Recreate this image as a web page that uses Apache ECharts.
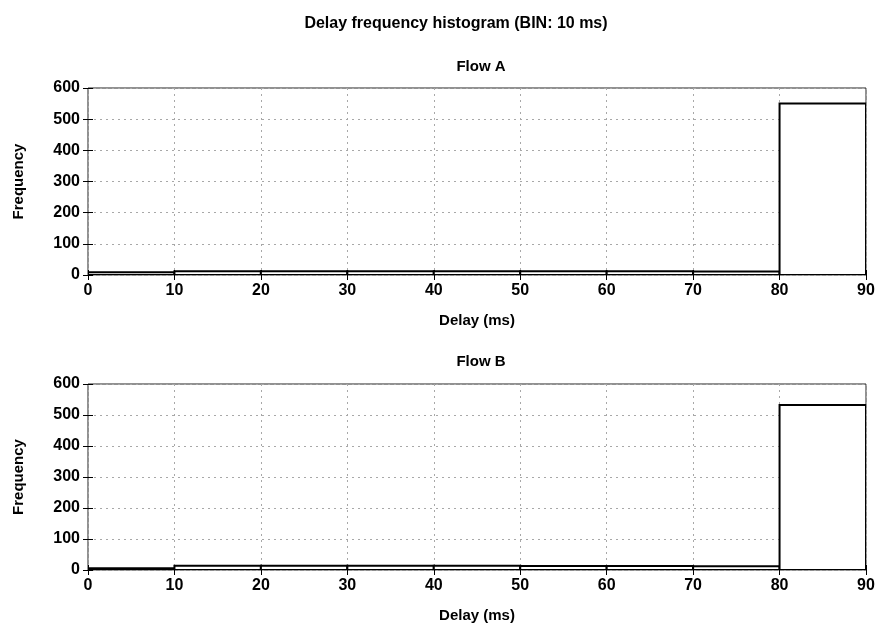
<!DOCTYPE html>
<html>
<head>
<meta charset="utf-8">
<script src="https://cdn.jsdelivr.net/npm/echarts@6/dist/echarts.min.js"></script>
<style>
  html, body { margin: 0; padding: 0; background: #fff; }
  #chart { width: 882px; height: 627px; }
</style>
</head>
<body>
<div id="chart"></div>
<script>
// Histogram bins (ms): each bin spans [edge, edge + 10)
const binEdges = [0, 10, 20, 30, 40, 50, 60, 70, 80];
const binWidth = 10;
// Counts per bin
const flowA = [9, 12, 12, 12, 12, 12, 12, 11, 550];
const flowB = [6, 14, 14, 14, 14, 13, 13, 12, 532];
// Axis ticks
const xTicks = [0, 10, 20, 30, 40, 50, 60, 70, 80, 90];
const yTicks = [0, 100, 200, 300, 400, 500, 600];

const FONT = '"Liberation Sans", Arial, sans-serif';
const txt = { fontFamily: FONT, fontWeight: 'bold', color: '#000' };

function histData(counts) {
  return counts.map((c, i) => [binEdges[i], binEdges[i] + binWidth, c]);
}

function renderBin(params, api) {
  const p0 = api.coord([api.value(0), api.value(2)]);
  const p1 = api.coord([api.value(1), 0]);
  return {
    type: 'rect',
    shape: { x: p0[0], y: p0[1], width: p1[0] - p0[0], height: p1[1] - p0[1] },
    style: { fill: '#fff', stroke: '#000', lineWidth: 2 },
    z2: 10
  };
}

const gridLine = { show: true, lineStyle: { color: '#a8a8a8', type: [2, 4], width: 1 } };

function xAxes(gi) {
  return [
    {
      type: 'value', gridIndex: gi, min: xTicks[0], max: xTicks[xTicks.length - 1], interval: 10,
      position: 'bottom',
      name: 'Delay (ms)', nameLocation: 'middle', nameGap: 38,
      nameTextStyle: Object.assign({ fontSize: 15 }, txt),
      axisLine: { show: false },
      axisTick: { show: true, inside: true, length: 5, lineStyle: { color: '#000' } },
      axisLabel: Object.assign({ fontSize: 16, margin: 8 }, txt),
      splitLine: gridLine
    },
    {
      type: 'value', gridIndex: gi, min: xTicks[0], max: xTicks[xTicks.length - 1], interval: 10,
      position: 'top',
      axisLine: { show: false },
      axisTick: { show: true, inside: true, length: 5, lineStyle: { color: '#000' } },
      axisLabel: { show: false },
      splitLine: { show: false }
    }
  ];
}

function yAxes(gi) {
  return [
    {
      type: 'value', gridIndex: gi, min: yTicks[0], max: yTicks[yTicks.length - 1], interval: 100,
      position: 'left',
      name: 'Frequency', nameLocation: 'middle', nameGap: 62,
      nameTextStyle: Object.assign({ fontSize: 15 }, txt),
      axisLine: { show: false },
      axisTick: { show: true, inside: true, length: 5, lineStyle: { color: '#000' } },
      axisLabel: Object.assign({ fontSize: 16, margin: 8 }, txt),
      splitLine: gridLine
    },
    {
      type: 'value', gridIndex: gi, min: yTicks[0], max: yTicks[yTicks.length - 1], interval: 100,
      position: 'right',
      axisLine: { show: false },
      axisTick: { show: true, inside: true, length: 5, lineStyle: { color: '#000' } },
      axisLabel: { show: false },
      splitLine: { show: false }
    }
  ];
}

const chart = echarts.init(document.getElementById('chart'), null, { renderer: 'canvas' });
chart.setOption({
  backgroundColor: '#fff',
  animation: false,
  title: [
    { text: 'Delay frequency histogram (BIN: 10 ms)', left: 451, top: 11, textAlign: 'center',
      textStyle: Object.assign({ fontSize: 16 }, txt) },
    { text: 'Flow A', left: 476, top: 54, textAlign: 'center',
      textStyle: Object.assign({ fontSize: 15 }, txt) },
    { text: 'Flow B', left: 476, top: 349, textAlign: 'center',
      textStyle: Object.assign({ fontSize: 15 }, txt) }
  ],
  grid: [
    { left: 88, top: 88, width: 778, height: 187, show: true, borderColor: '#222', borderWidth: 1, backgroundColor: 'transparent' },
    { left: 88, top: 384, width: 778, height: 186, show: true, borderColor: '#222', borderWidth: 1, backgroundColor: 'transparent' }
  ],
  xAxis: xAxes(0).concat(xAxes(1)),
  yAxis: yAxes(0).concat(yAxes(1)),
  series: [
    { name: 'Flow A', type: 'custom', xAxisIndex: 0, yAxisIndex: 0, renderItem: renderBin,
      encode: { x: [0, 1], y: 2 }, data: histData(flowA), clip: true },
    { name: 'Flow B', type: 'custom', xAxisIndex: 2, yAxisIndex: 2, renderItem: renderBin,
      encode: { x: [0, 1], y: 2 }, data: histData(flowB), clip: true }
  ]
});
</script>
</body>
</html>
